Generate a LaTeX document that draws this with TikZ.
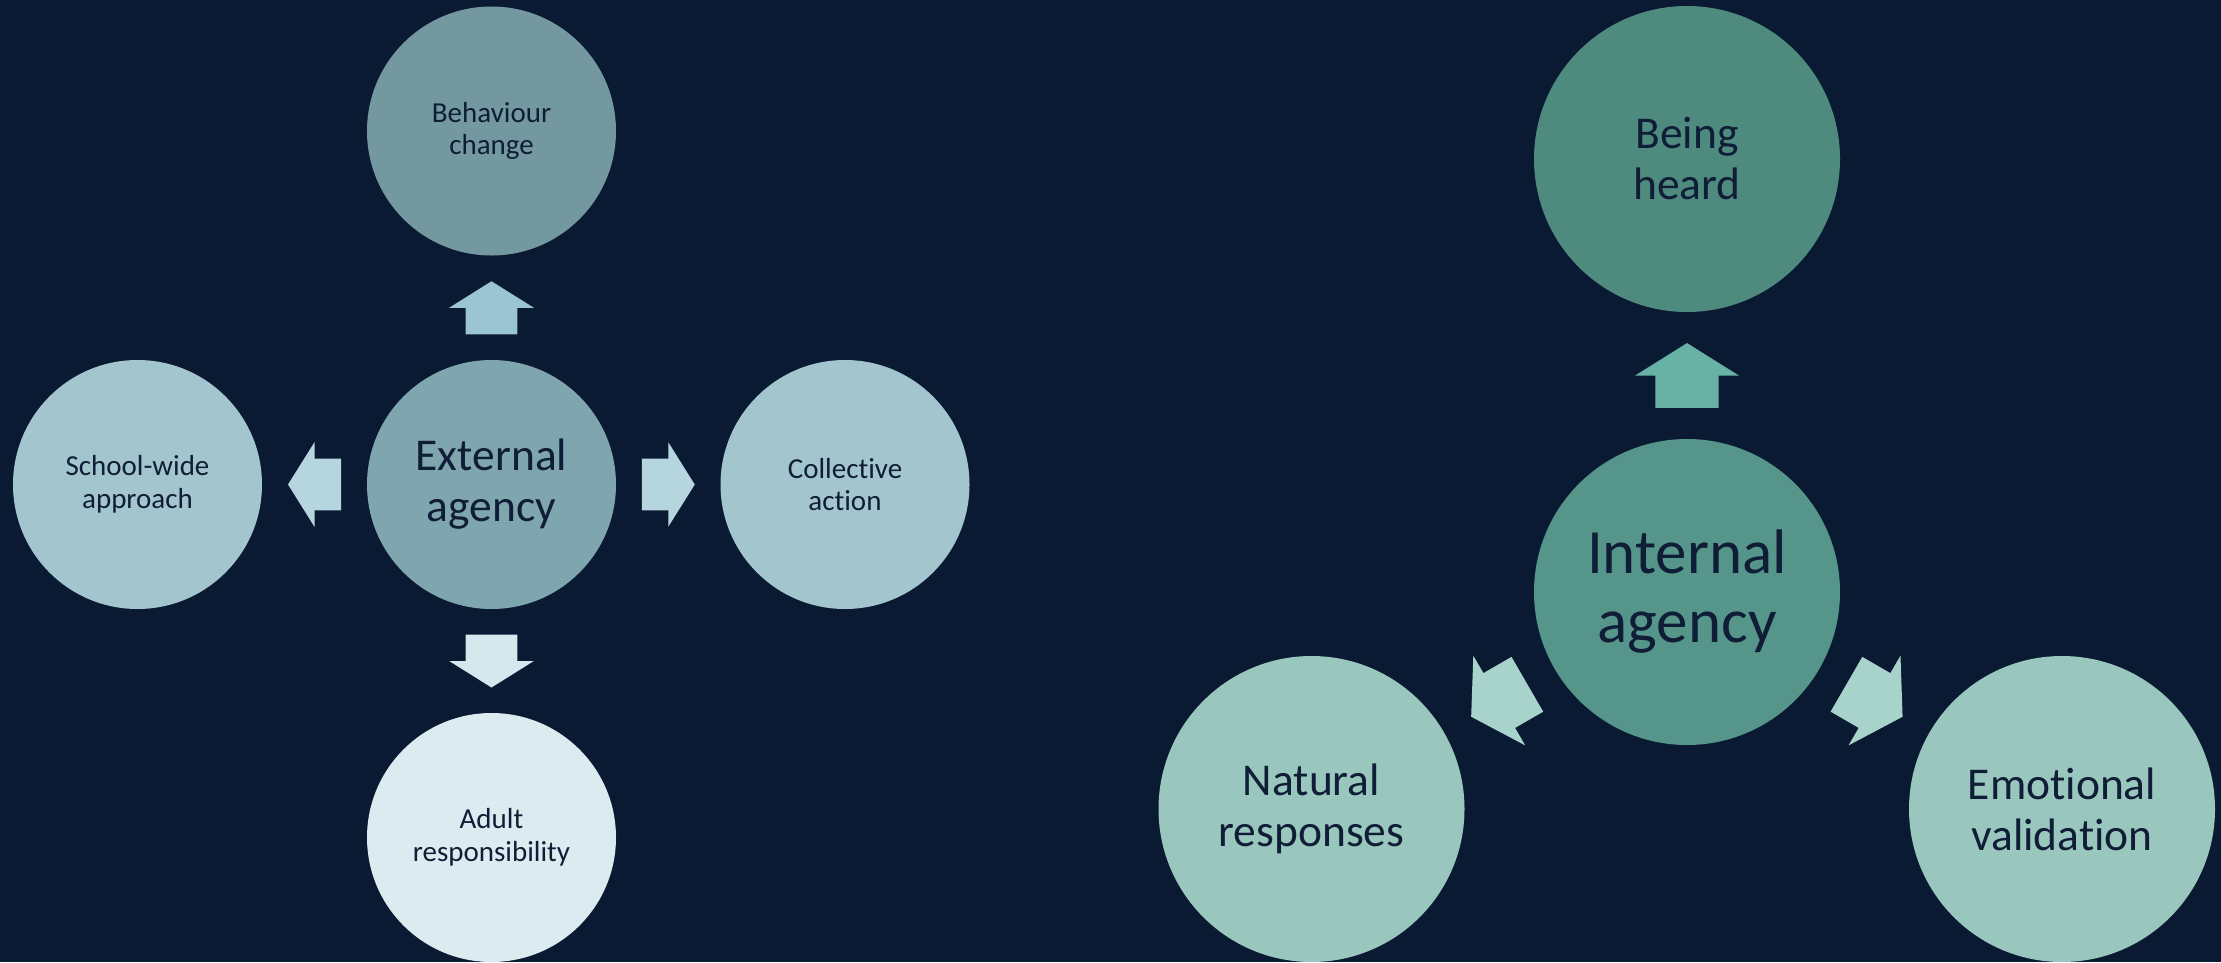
\documentclass[tikz,border=0pt]{standalone}
\usepackage{fontspec}
\setmainfont{Carlito}[Ligatures=NoCommon]
\usetikzlibrary{calc}
\definecolor{bg}{HTML}{0B1A33}
\definecolor{txt}{HTML}{0F1E36}
\definecolor{cBeh}{HTML}{7498A0}
\definecolor{cExt}{HTML}{7FA5AE}
\definecolor{cSide}{HTML}{A3C5CD}
\definecolor{cAdult}{HTML}{DCEBF0}
\definecolor{aUp}{HTML}{9CC5D3}
\definecolor{aSide}{HTML}{B5D6DF}
\definecolor{aDown}{HTML}{D4E8EE}
\definecolor{cHeard}{HTML}{4F8A7F}
\definecolor{cInt}{HTML}{56958A}
\definecolor{cOut}{HTML}{99C6BD}
\definecolor{aTeal}{HTML}{68B1A5}
\definecolor{aMint}{HTML}{A7D3CA}
\tikzset{
  bub/.style={circle, inner sep=0pt, align=center, text=txt},
  smallbub/.style={bub, minimum size=249pt, font=\fontsize{29}{32.5}\selectfont},
  bigbub/.style={bub, minimum size=249pt, font=\fontsize{45.5}{51}\selectfont},
  rbub/.style={bub, minimum size=306pt, font=\fontsize{45.5}{51}\selectfont},
  rbig/.style={bub, minimum size=306pt, font=\fontsize{63}{69}\selectfont},
  blkarrow/.pic={\fill (-26.5,-25.85) -- (0,-25.85) -- (0,-42.35) -- (26.5,0) -- (0,42.35) -- (0,25.85) -- (-26.5,25.85) -- cycle;}
}
\newcommand\blkarr[4]{%
  \path let \p1=($(#4)-(#3)$), \n1={atan2(\y1,\x1)} in ($(#3)!0.5!(#4)$) pic[rotate=\n1, scale=#1, fill=#2] {blkarrow};}
\begin{document}
\begin{tikzpicture}[x=1pt,y=-1pt]
\fill[bg] (0,0) rectangle (2221,962);
\useasboundingbox (0,0) rectangle (2221,962);
% left diagram
\node[bigbub, fill=cExt] (ext) at (491.5,484.5) {External\\agency};
\node[smallbub, fill=cBeh] (beh) at (491.5,131) {Behaviour\\change};
\node[smallbub, fill=cSide] (school) at (137.5,484.5) {School-wide\\approach};
\node[smallbub, fill=cSide] (coll) at (845,484.5) {Collective\\action};
\node[smallbub, fill=cAdult] (adult) at (491.5,837.5) {Adult\\responsibility};
\blkarr{1}{aUp}{ext}{beh}
\blkarr{1}{aSide}{ext}{school}
\blkarr{1}{aSide}{ext}{coll}
\blkarr{1}{aDown}{ext}{adult}
% right diagram
\node[rbig, fill=cInt] (int) at (1687,592) {Internal\\agency};
\node[rbub, fill=cHeard] (heard) at (1687,159) {Being\\heard};
\node[rbub, fill=cOut] (nat) at (1311.5,809) {Natural\\responses};
\node[rbub, fill=cOut] (emo) at (2062,809) {Emotional\\validation};
\blkarr{1.224}{aTeal}{int}{heard}
\blkarr{1.224}{aMint}{int}{nat}
\blkarr{1.224}{aMint}{int}{emo}
\end{tikzpicture}
\end{document}
